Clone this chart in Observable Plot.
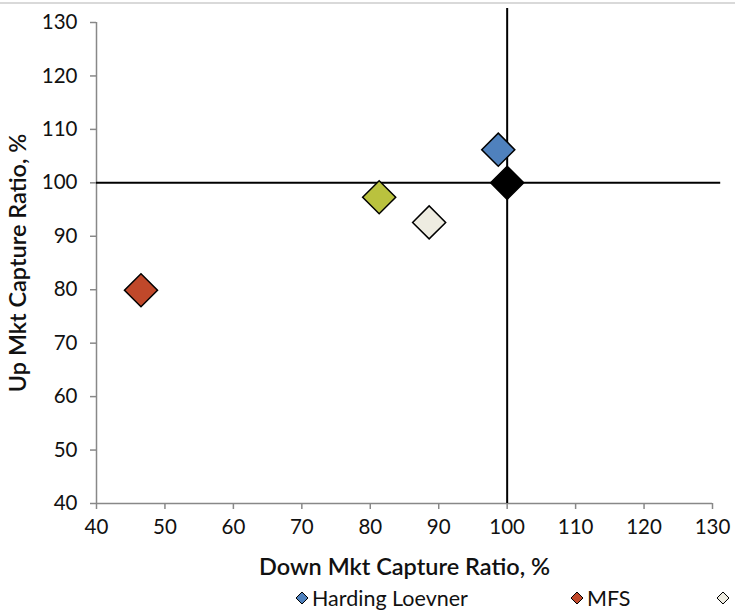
<!DOCTYPE html>
<html>
<head>
<meta charset="utf-8">
<script src="https://cdn.jsdelivr.net/npm/d3@7"></script>
<script src="https://cdn.jsdelivr.net/npm/@observablehq/plot@0.6"></script>
<style>
  html, body { margin: 0; padding: 0; background: #fff; }
  #wrap { position: relative; width: 735px; height: 612px; overflow: hidden; font-family: Lato, sans-serif; }
  #topline { position: absolute; left: 0; top: 2px; width: 735px; height: 2px; background: #d9d9d9; }
  #legend { position: absolute; left: 0; top: 584px; width: 735px; height: 28px; display: flex; align-items: center; white-space: nowrap; font-size: 21.5px; color: #111; }
  .item { display: flex; align-items: center; flex: none; }
  .item svg { margin-right: 3px; }
</style>
</head>
<body>
<div id="wrap">
  <div id="chart"></div>
  <div id="topline"></div>
  <div id="legend"></div>
</div>
<script>
// Data
const names = ["Harding Loevner", "MFS", "", "", ""];
const downCapture = [98.7, 46.5, 88.6, 81.3, 100];
const upCapture = [106.2, 79.9, 92.6, 97.3, 100];
const colors = ["#4F81BD", "#C0482A", "#EEECE1", "#BAC23E", "#000000"];
const xTicks = [40, 50, 60, 70, 80, 90, 100, 110, 120, 130];
const yTicks = [40, 50, 60, 70, 80, 90, 100, 110, 120, 130];
const xTitle = "Down Mkt Capture Ratio, %";
const yTitle = "Up Mkt Capture Ratio, %";
// reference cross lines at 100 and how far they reach
const refValue = 100;
const vLineTop = 132.6;
const hLineRight = 131.2;
const legendShown = [0, 1, 2];

const points = names.map((n, i) => ({name: n, down: downCapture[i], up: upCapture[i], color: colors[i]}));

const chart = Plot.plot({
  width: 735,
  height: 584,
  marginLeft: 96,
  marginRight: 23,
  marginTop: 22,
  marginBottom: 81,
  style: {fontFamily: "Lato, sans-serif", fontSize: "20.5px", color: "#111", background: "transparent"},
  x: {domain: [40, 130]},
  y: {domain: [40, 130]},
  color: {type: "identity"},
  marks: [
    Plot.axisX({ticks: xTicks, tickSize: 6, tickPadding: 10, stroke: "#888", strokeWidth: 1.5, fill: "#111", label: null, tickFormat: d => String(d)}),
    Plot.axisY({ticks: yTicks, tickSize: 6, tickPadding: 13, stroke: "#888", strokeWidth: 1.5, fill: "#111", label: null, tickFormat: d => String(d)}),
    Plot.ruleY([40], {stroke: "#888", strokeWidth: 1.5}),
    Plot.ruleX([40], {stroke: "#888", strokeWidth: 1.5}),
    Plot.ruleX([refValue], {y1: 40, y2: vLineTop, stroke: "#000", strokeWidth: 2}),
    Plot.ruleY([refValue], {x1: 40, x2: hLineRight, stroke: "#000", strokeWidth: 2}),
    Plot.dot(points, {x: "down", y: "up", fill: "color", symbol: "square", rotate: 45, r: 13.2, stroke: "#000", strokeWidth: 1.5}),
    Plot.text([xTitle], {frameAnchor: "bottom", textAnchor: "middle", dy: 71, fontWeight: 600, fontSize: 23.5, fill: "#111"}),
    Plot.text([yTitle], {frameAnchor: "left", textAnchor: "middle", lineAnchor: "middle", dx: -78, rotate: -90, fontWeight: 600, fontSize: 23.5, fill: "#111"})
  ]
});
document.getElementById("chart").appendChild(chart);

// Legend
const legend = document.getElementById("legend");
const itemWidths = [275, 146, 200];
const startX = 295;
legend.style.paddingLeft = startX + "px";
legendShown.forEach((i, k) => {
  const item = document.createElement("div");
  item.className = "item";
  item.style.width = itemWidths[k] + "px";
  item.innerHTML = `<svg width="14" height="14" viewBox="0 0 14 14"><path d="M7 1 L13 7 L7 13 L1 7 Z" fill="${colors[i]}" stroke="#000" stroke-width="1"/></svg><span>${names[i]}</span>`;
  legend.appendChild(item);
});
</script>
</body>
</html>
